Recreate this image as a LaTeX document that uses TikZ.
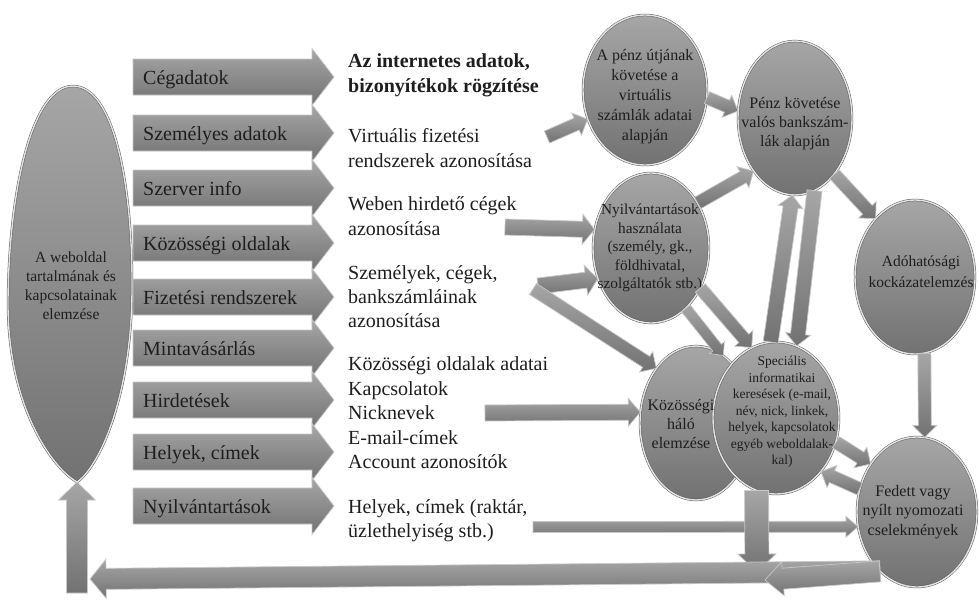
\documentclass[tikz,border=0pt]{standalone}
\usepackage{fontspec}
\setmainfont{Liberation Serif}
\usetikzlibrary{shapes.geometric,calc}

\definecolor{shapegray}{HTML}{8C8C8C}
\definecolor{shapelight}{HTML}{A6A6A6}
\definecolor{shapedark}{HTML}{727272}
\definecolor{edgegray}{HTML}{5E5E5E}
\definecolor{rimgray}{HTML}{E4E4E4}
\definecolor{barrim}{HTML}{C8C8C8}
\definecolor{ink}{HTML}{1E1E1E}

\newcommand\setfs[2]{\fontsize{#1}{#2}\selectfont}

% block arrow from #1 to #2: shaft half-width #3, head half-width #4, head length #5 (pt)
\newcommand\link[5]{%
  \path let \p1=(#1), \p2=(#2),
    \n1={atan2(\y2-\y1,\x2-\x1)}, \n2={veclen(\x2-\x1,\y2-\y1)} in
    \pgfextra{\pgfmathsetmacro\lktmpa{\n1}\pgfmathsetmacro\lktmpb{\n2}%
      \xdef\lkang{\lktmpa}\xdef\lklen{\lktmpb}\xdef\lkx{\x1}\xdef\lky{\y1}};
  \begin{scope}[shift={(\lkx,\lky)}, rotate=\lkang]
    \path[blockarrow] (0pt,#3pt) -- ({\lklen pt-#5pt},#3pt) -- ({\lklen pt-#5pt},#4pt)
      -- (\lklen pt,0pt) -- ({\lklen pt-#5pt},-#4pt) -- ({\lklen pt-#5pt},-#3pt)
      -- (0pt,-#3pt) -- cycle;
  \end{scope}}
\newcommand\stdlink[2]{\link{#1}{#2}{6.5}{12}{12}}

\tikzset{
  shade3d/.style={top color=shapelight, bottom color=shapedark, middle color=shapegray},
  egg/.style={shade3d, draw=edgegray, double=rimgray, double distance=1.4pt, line width=0.5pt},
  blob/.style={ellipse, inner sep=0pt, egg},
  blobtext/.style={align=center, inner sep=0pt, text=ink},
  blockarrow/.style={shade3d, draw=barrim, line width=0.7pt},
  barlabel/.style={anchor=base west, inner sep=0pt, text=ink, font=\setfs{20}{24}},
  sidetext/.style={anchor=west, inner sep=0pt, align=left, text=ink},
}

\begin{document}
\begin{tikzpicture}[x=1pt,y=-1pt]
\fill[white] (0,0) rectangle (979,600);
\useasboundingbox (0,0) rectangle (979,600);

% left hub
\path[egg] (73,86) .. controls (114,86) and (133,185) .. (132,292)
  .. controls (131,400) and (98,468) .. (77,482)
  .. controls (52,468) and (7,405) .. (8,300)
  .. controls (9,190) and (32,86) .. (73,86) -- cycle;
\node[blobtext, font=\setfs{15.5}{19}] (webtext) at (71,286)
  {A weboldal\\tartalmának és\\kapcsolatainak\\elemzése};
\coordinate (webbot) at (77,482);

% data source bars
\foreach \i/\y in {1/77,2/133,3/188,4/243,5/297,6/348,7/400,8/452,9/506}{
  \coordinate (bt\i) at (133,\y);
  \coordinate (bh\i) at (334,\y);
  \link{bt\i}{bh\i}{18}{28.5}{22}
}
\node[barlabel] (l1) at (143,84) {Cégadatok};
\node[barlabel] (l2) at (143,140) {Személyes adatok};
\node[barlabel] (l3) at (143,195) {Szerver info};
\node[barlabel] (l4) at (143,250) {Közösségi oldalak};
\node[barlabel] (l5) at (143,304) {Fizetési rendszerek};
\node[barlabel] (l6) at (143,355) {Mintavásárlás};
\node[barlabel] (l7) at (143,407) {Hirdetések};
\node[barlabel] (l8) at (143,459) {Helyek, címek};
\node[barlabel] (l9) at (143,513) {Nyilvántartások};

% results column
\node[sidetext, font=\setfs{20}{25}] (t1) at (348,75)
  {\textbf{Az internetes adatok,}\\\textbf{bizonyítékok rögzítése}};
\node[sidetext, font=\setfs{20}{25}] (t2) at (348,148) {Virtuális fizetési\\rendszerek azonosítása};
\node[sidetext, font=\setfs{20}{25}] (t3) at (348,216) {Weben hirdető cégek\\azonosítása};
\node[sidetext, font=\setfs{20}{24}] (t4) at (348,297) {Személyek, cégek,\\bankszámláinak\\azonosítása};
\node[sidetext, font=\setfs{20}{24.5}] (t5) at (348,413)
  {Közösségi oldalak adatai\\Kapcsolatok\\Nicknevek\\E-mail-címek\\Account azonosítók};
\node[sidetext, font=\setfs{20}{24}] (t6) at (348,521) {Helyek, címek (raktár,\\üzlethelyiség stb.)};

% analysis circles
\node[blob, minimum width=124pt, minimum height=150pt] (A) at (645,90) {};
\node[blob, minimum width=114pt, minimum height=154pt] (B) at (795,118) {};
\node[blob, minimum width=116pt, minimum height=150pt] (C) at (651,248) {};
\node[blob, minimum width=120pt, minimum height=154pt] (D) at (915,277) {};
\node[blob, minimum width=112pt, minimum height=154pt] (E) at (696,423) {};
\node[blob, minimum width=126pt, minimum height=152pt] (F) at (776,418) {};
\node[blob, minimum width=120pt, minimum height=150pt] (G) at (917,512) {};

\node[blobtext, font=\setfs{16}{20}] (At) at (645,97)
  {A pénz útjának\\követése a\\virtuális\\számlák adatai\\alapján};
\node[blobtext, font=\setfs{16}{19}] (Bt) at (795,124)
  {Pénz követése\\valós bankszám-\\lák alapján};
\node[blobtext, font=\setfs{15.3}{18.4}] (Ct) at (650,248)
  {Nyilvántartások\\használata\\(személy, gk.,\\földhivatal,\\szolgáltatók stb.)};
\node[blobtext, font=\setfs{15.5}{21}] (Dt) at (921,272) {Adóhatósági\\kockázatelemzés};
\node[blobtext, font=\setfs{16}{19}] (Et) at (681,424) {Közösségi\\háló\\elemzése};
\node[blobtext, font=\setfs{13.5}{16.5}] (Ft) at (782,412)
  {Speciális\\informatikai\\keresések (e-mail,\\név, nick, linkek,\\helyek, kapcsolatok\\egyéb weboldalak-\\kal)};
\node[blobtext, font=\setfs{16}{19.5}] (Gt) at (913,512)
  {Fedett vagy\\nyílt nyomozati\\cselekmények};

% free ends of the connectors
\coordinate (v1) at (547,137);
\coordinate (w1) at (505,227);
\coordinate (s1) at (538,286);
\coordinate (s2) at (533,289);
\coordinate (k1) at (485,413);
\coordinate (h1) at (533,527);
\coordinate (j1) at (757,572);
\coordinate (j2) at (765,580);
\coordinate (j3) at (90,579);
\coordinate (j4) at (77,593);

% connectors
\stdlink{v1}{A.207}
\stdlink{A.353}{B.173}
\link{w1}{C.162}{8}{15}{12}
\link{s1}{C.210}{8}{15}{12}
\stdlink{s2}{E.126}
\stdlink{C.44}{B.232}
\link{F.94}{B.268}{7.5}{12.5}{12}
\link{B.285}{F.74}{7.5}{12.5}{12}
\stdlink{C.321}{F.109}
\link{C.300}{E.68}{5.5}{9.5}{10}
\link{k1}{E.169}{8}{14}{12}
\link{h1}{G.194}{5.5}{10.5}{12}
\link{F.255}{j1}{12}{19}{18}
\link{G.238}{j3}{10.5}{19.5}{16}
\link{G.238}{j2}{10.5}{17}{18}
\link{j4}{webbot}{10.5}{18.5}{18}
\stdlink{B.305}{D.124}
\stdlink{D.277}{G.84}
\stdlink{F.338}{G.134}
\stdlink{G.158}{F.310}
\end{tikzpicture}
\end{document}
